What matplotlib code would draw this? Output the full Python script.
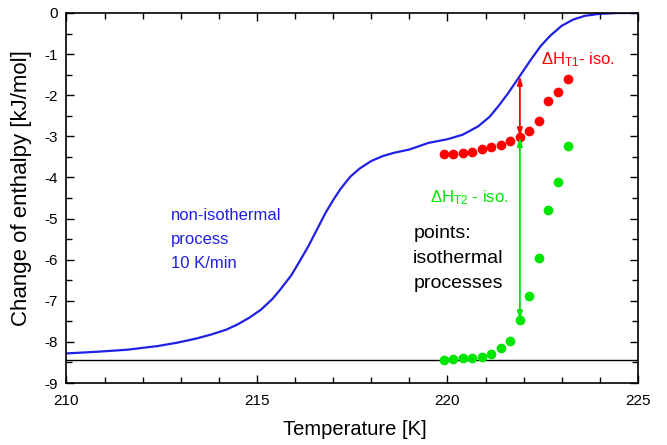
import matplotlib
matplotlib.use("Agg")
import matplotlib.pyplot as plt
from matplotlib.ticker import MultipleLocator

plt.rcParams['font.family'] = ['Liberation Sans', 'DejaVu Sans']
plt.rcParams['axes.unicode_minus'] = False
plt.rcParams['mathtext.fontset'] = 'custom'
plt.rcParams['mathtext.rm'] = 'Liberation Sans'
plt.rcParams['mathtext.it'] = 'Liberation Sans'

# non-isothermal curve (10 K/min)
curve_T = [210.0, 210.8, 211.6, 212.4, 212.9, 213.4, 213.8, 214.2, 214.5, 214.8,
           215.1, 215.4, 215.6, 215.9, 216.1, 216.35, 216.6, 216.8, 217.0, 217.2,
           217.45, 217.7, 218.0, 218.3, 218.6, 219.0, 219.5, 220.0, 220.4, 220.8,
           221.1, 221.35, 221.6, 221.9, 222.2, 222.45, 222.7, 223.0, 223.3, 223.6,
           224.0, 224.5, 225.0]
curve_H = [-8.28, -8.24, -8.19, -8.10, -8.02, -7.92, -7.82, -7.70, -7.57, -7.41,
           -7.22, -6.96, -6.74, -6.38, -6.07, -5.67, -5.22, -4.86, -4.55, -4.27,
           -3.98, -3.78, -3.60, -3.48, -3.40, -3.32, -3.16, -3.07, -2.96, -2.76,
           -2.53, -2.25, -1.94, -1.53, -1.12, -0.80, -0.55, -0.31, -0.16, -0.07,
           -0.02, 0.0, 0.0]

# isothermal points
iso_T = [219.9, 220.15, 220.4, 220.65, 220.9, 221.15, 221.4, 221.65, 221.9,
         222.15, 222.4, 222.65, 222.9, 223.15]
red_H = [-3.43, -3.42, -3.40, -3.39, -3.32, -3.27, -3.20, -3.11, -3.02,
         -2.87, -2.63, -2.15, -1.92, -1.60]
green_H = [-8.44, -8.42, -8.40, -8.38, -8.36, -8.30, -8.14, -7.98, -7.47,
           -6.88, -5.95, -4.79, -4.12, -3.24]

baseline_H = -8.45
arrow_T = 221.9
arrow_top_H = -1.53

blue = '#2020E6'
red = '#FF0000'
green = '#00E600'

fig = plt.figure(figsize=(6.67, 4.45), dpi=100)
ax = fig.add_axes([0.0997, 0.1393, 0.8568, 0.8315])

ax.axhline(baseline_H, color='black', lw=1.0, zorder=1)
ax.plot(curve_T, curve_H, color=blue, lw=1.6, zorder=2)
ax.plot(iso_T, red_H, 'o', color=red, ms=7, mec='none', zorder=3)
ax.plot(iso_T, green_H, 'o', color=green, ms=7, mec='none', zorder=3)

i = iso_T.index(arrow_T)
ax.annotate('', xy=(arrow_T, arrow_top_H), xytext=(arrow_T, red_H[i]),
            arrowprops=dict(arrowstyle='<|-|>,head_length=0.5,head_width=0.15',
                            color=red, lw=1.3, shrinkA=0, shrinkB=0), zorder=4)
ax.annotate('', xy=(arrow_T, red_H[i]), xytext=(arrow_T, green_H[i]),
            arrowprops=dict(arrowstyle='<|-|>,head_length=0.5,head_width=0.15',
                            color=green, lw=1.3, shrinkA=0, shrinkB=0), zorder=4)

ax.text(222.45, -1.14, r'$\Delta$H$_{\mathregular{T1}}$- iso.', color=red,
        fontsize=12, va='center', ha='left')
ax.text(219.55, -4.48, r'$\Delta$H$_{\mathregular{T2}}$ - iso.', color=green,
        fontsize=12, va='center', ha='left')

black_lines = ['points:', 'isothermal', 'processes']
for k, s in enumerate(black_lines):
    ax.text(219.1, -5.37 - 0.60 * k, s, color='black', fontsize=14,
            va='center', ha='left')
blue_lines = ['non-isothermal', 'process', '10 K/min']
for k, s in enumerate(blue_lines):
    ax.text(212.75, -4.93 - 0.585 * k, s, color=blue, fontsize=12,
            va='center', ha='left')

ax.set_xlim(210, 225)
ax.set_ylim(-9, 0)
ax.xaxis.set_major_locator(MultipleLocator(5))
ax.xaxis.set_minor_locator(MultipleLocator(1))
ax.yaxis.set_major_locator(MultipleLocator(1))
ax.yaxis.set_minor_locator(MultipleLocator(0.5))
ax.tick_params(which='both', direction='in', top=True, right=True,
               labelsize=11, width=1.0)
ax.tick_params(axis='x', which='both', pad=8)
ax.tick_params(axis='y', which='both', pad=6)
ax.tick_params(which='major', length=6)
ax.tick_params(which='minor', length=4)
for s in ax.spines.values():
    s.set_linewidth(1.2)

ax.set_xlabel('Temperature [K]', fontsize=14.5)
ax.set_ylabel('Change of enthalpy [kJ/mol]', fontsize=16)
ax.xaxis.set_label_coords(0.505, -0.10)
ax.yaxis.set_label_coords(-0.060, 0.527)

fig.savefig('out.png', dpi=100)
